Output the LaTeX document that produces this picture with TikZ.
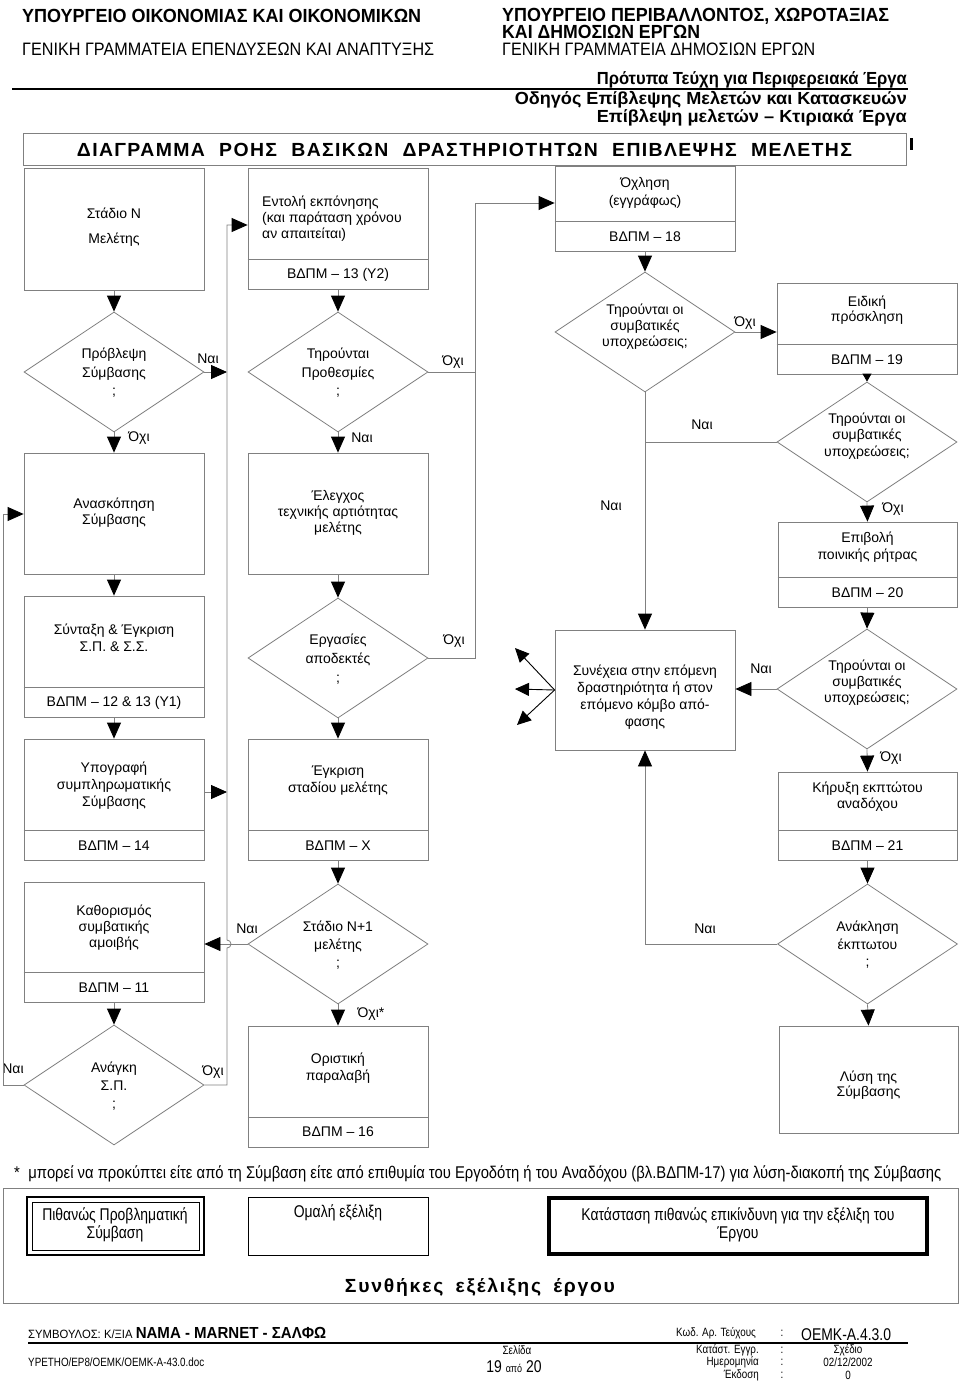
\documentclass[tikz,border=0pt]{standalone}
\usepackage{fontspec}
\usepackage{graphicx}
\setmainfont{Liberation Sans}
\newfontfamily\narrowfnt[FakeStretch=0.82]{Liberation Sans}
\usetikzlibrary{arrows.meta,shapes.geometric}
\definecolor{ln}{RGB}{128,128,128}
\newcommand\fitbox[2]{\resizebox{#1}{\height}{#2}}
\begin{document}
\begin{tikzpicture}[x=1pt,y=-1pt,
  line/.style={draw=ln,line width=0.8pt},
  arr/.style={draw=ln,line width=0.8pt,-{Triangle[length=16pt,width=14pt,color=black]}},
  arrs/.style={draw=ln,line width=0.8pt,-{Triangle[length=8pt,width=9pt,color=black]}},
  fan/.style={draw=black,line width=0.9pt,-{Triangle[length=14pt,width=13pt]}},
  box/.style={draw=ln,line width=0.8pt,rectangle,inner sep=0pt,minimum width=180pt},
  dia/.style={draw=ln,line width=0.8pt,diamond,inner sep=0pt,minimum width=180pt,minimum height=120pt},
  tx/.style={align=center,inner sep=0pt,font=\fontsize{14}{#1}\selectfont},
  tx/.default=16.5,
  lbl/.style={inner sep=0pt,font=\fontsize{14}{16}\selectfont},
  hd/.style={anchor=west,inner sep=0pt},
  hr/.style={anchor=east,inner sep=0pt},
  nf/.style={inner sep=0pt,font=\narrowfnt\fontsize{12}{12}\selectfont}]
\useasboundingbox (0,0) rectangle (960,1382);
\fill[white] (0,0) rectangle (960,1382);

% ---------- header ----------
\node[hd] (h1) at (22,16) {\fitbox{399pt}{\fontsize{19}{19}\selectfont\bfseries ΥΠΟΥΡΓΕΙΟ ΟΙΚΟΝΟΜΙΑΣ ΚΑΙ ΟΙΚΟΝΟΜΙΚΩΝ}};
\node[hd] (h2) at (22,49) {\fitbox{412pt}{\fontsize{18}{18}\selectfont ΓΕΝΙΚΗ ΓΡΑΜΜΑΤΕΙΑ ΕΠΕΝΔΥΣΕΩΝ ΚΑΙ ΑΝΑΠΤΥΞΗΣ}};
\node[hd] (h3) at (502,16) {\fitbox{387pt}{\fontsize{19}{19}\selectfont\bfseries ΥΠΟΥΡΓΕΙΟ ΠΕΡΙΒΑΛΛΟΝΤΟΣ, ΧΩΡΟΤΑΞΙΑΣ}};
\node[hd] (h4) at (502,31.5) {\fitbox{198pt}{\fontsize{19}{19}\selectfont\bfseries ΚΑΙ ΔΗΜΟΣΙΩΝ ΕΡΓΩΝ}};
\node[hd] (h5) at (502,49) {\fitbox{313pt}{\fontsize{18}{18}\selectfont ΓΕΝΙΚΗ ΓΡΑΜΜΑΤΕΙΑ ΔΗΜΟΣΙΩΝ ΕΡΓΩΝ}};
\node[hr] (h6) at (907,80) {\fitbox{310pt}{\fontsize{17.5}{17.5}\selectfont\bfseries Πρότυπα Τεύχη για Περιφερειακά Έργα}};
\draw[black,line width=1.3pt] (12,89) -- (908,89);
\node[hr] (h7) at (907,100) {\fitbox{392pt}{\fontsize{17.5}{17.5}\selectfont\bfseries Οδηγός Επίβλεψης Μελετών και Κατασκευών}};
\node[hr] (h8) at (907,118) {\fitbox{310pt}{\fontsize{17.5}{17.5}\selectfont\bfseries Επίβλεψη μελετών – Κτιριακά Έργα}};
\node[draw=ln,line width=0.8pt,minimum width=883pt,minimum height=32pt,inner sep=0pt] (title) at (464.5,149) {};
\node[inner sep=0pt] (titletxt) at (464.5,150) {\fitbox{775pt}{\fontsize{19}{19}\selectfont\bfseries\addfontfeature{LetterSpace=7}ΔΙΑΓΡΑΜΜΑ\hspace{14pt}ΡΟΗΣ\hspace{14pt}ΒΑΣΙΚΩΝ\hspace{14pt}ΔΡΑΣΤΗΡΙΟΤΗΤΩΝ\hspace{14pt}ΕΠΙΒΛΕΨΗΣ\hspace{14pt}ΜΕΛΕΤΗΣ}};
\draw[black,line width=3pt] (911,138) -- (911,150);

% ---------- boxes ----------
\node[box,minimum height=122pt] (A) at (114,229) {};
\node[box,minimum height=121pt] (B) at (338,228.5) {};
\node[box,minimum height=85pt] (C) at (645,208.5) {};
\node[box,minimum height=91pt] (E) at (867,328.5) {};
\node[box,minimum width=179pt,minimum height=85pt] (G) at (867.5,564.5) {};
\node[box,minimum height=120pt] (F) at (645,690) {};
\node[box,minimum width=179pt,minimum height=88pt] (H) at (867.5,816) {};
\node[box,minimum width=179pt,minimum height=107pt] (I) at (868.5,1079.5) {};
\node[box,minimum height=121pt] (J) at (114,513.5) {};
\node[box,minimum height=121pt] (K) at (114,656.5) {};
\node[box,minimum height=121pt] (L) at (114,799.5) {};
\node[box,minimum height=120pt] (M) at (114,942) {};
\node[box,minimum height=121pt] (N) at (338,513.5) {};
\node[box,minimum height=121pt] (O) at (338,799.5) {};
\node[box,minimum height=121pt] (P) at (338,1086.5) {};

% dividers
\draw[line] (B.west |- 0,259) -- (B.east |- 0,259);
\draw[line] (C.west |- 0,221) -- (C.east |- 0,221);
\draw[line] (E.west |- 0,344) -- (E.east |- 0,344);
\draw[line] (G.west |- 0,577) -- (G.east |- 0,577);
\draw[line] (H.west |- 0,830) -- (H.east |- 0,830);
\draw[line] (K.west |- 0,687) -- (K.east |- 0,687);
\draw[line] (L.west |- 0,830) -- (L.east |- 0,830);
\draw[line] (M.west |- 0,972) -- (M.east |- 0,972);
\draw[line] (O.west |- 0,830) -- (O.east |- 0,830);
\draw[line] (P.west |- 0,1117) -- (P.east |- 0,1117);

% ---------- diamonds ----------
\node[dia] (D1) at (114,372) {};
\node[dia] (D2) at (338,372) {};
\node[dia] (D3) at (645,332) {};
\node[dia] (D4) at (867,442) {};
\node[dia] (D5) at (867,689) {};
\node[dia] (D6) at (338,944) {};
\node[dia] (D7) at (867.5,944) {};
\node[dia] (D8) at (114,1085) {};
\node[dia] (D9) at (338,658) {};

% ---------- texts ----------
\node[tx=25] (tA) at (114,227) {Στάδιο Ν\\Μελέτης};
\node[tx=16,anchor=west,align=left] (tB) at (262,219) {Εντολή εκπόνησης\\(και παράταση χρόνου\\αν απαιτείται)};
\node[tx] (bB) at (338,275) {ΒΔΠΜ – 13 (Υ2)};
\node[tx=18] (tC) at (645,193) {Όχληση\\(εγγράφως)};
\node[tx] (bC) at (645,237) {ΒΔΠΜ – 18};
\node[tx=15.5] (tE) at (867,310) {Ειδική\\πρόσκληση};
\node[tx] (bE) at (867,360) {ΒΔΠΜ – 19};
\node[tx=17] (tG) at (867.5,547) {Επιβολή\\ποινικής ρήτρας};
\node[tx] (bG) at (867.5,593) {ΒΔΠΜ – 20};
\node[tx=17] (tF) at (645,697) {Συνέχεια στην επόμενη\\δραστηριότητα ή στον\\επόμενο κόμβο από-\\φασης};
\node[tx=16] (tH) at (867.5,797) {Κήρυξη εκπτώτου\\αναδόχου};
\node[tx] (bH) at (867.5,846) {ΒΔΠΜ – 21};
\node[tx=15.5] (tI) at (868.5,1085) {Λύση της\\Σύμβασης};
\node[tx=16] (tJ) at (114,513) {Ανασκόπηση\\Σύμβασης};
\node[tx=17] (tK) at (114,638) {Σύνταξη \& Έγκριση\\Σ.Π. \& Σ.Σ.};
\node[tx] (bK) at (114,703) {ΒΔΠΜ – 12 \& 13 (Υ1)};
\node[tx=17] (tL) at (114,786) {Υπογραφή\\συμπληρωματικής\\Σύμβασης};
\node[tx] (bL) at (114,846) {ΒΔΠΜ – 14};
\node[tx=16] (tM) at (114,928) {Καθορισμός\\συμβατικής\\αμοιβής};
\node[tx] (bM) at (114,988) {ΒΔΠΜ – 11};
\node[tx=16] (tN) at (338,513) {Έλεγχος\\τεχνικής αρτιότητας\\μελέτης};
\node[tx=17] (tO) at (338,781) {Έγκριση\\σταδίου μελέτης};
\node[tx] (bO) at (338,846) {ΒΔΠΜ – Χ};
\node[tx=17] (tP) at (338,1068) {Οριστική\\παραλαβή};
\node[tx] (bP) at (338,1132) {ΒΔΠΜ – 16};

\node[tx=18.5] (tD1) at (114,373) {Πρόβλεψη\\Σύμβασης\\;};
\node[tx=18.5] (tD2) at (338,373) {Τηρούνται\\Προθεσμίες\\;};
\node[tx=16] (tD3) at (645,327) {Τηρούνται οι\\συμβατικές\\υποχρεώσεις;};
\node[tx=16.5] (tD4) at (867,436) {Τηρούνται οι\\συμβατικές\\υποχρεώσεις;};
\node[tx=16] (tD5) at (867,683) {Τηρούνται οι\\συμβατικές\\υποχρεώσεις;};
\node[tx=18] (tD6) at (338,945) {Στάδιο Ν+1\\μελέτης\\;};
\node[tx=17.5] (tD7) at (867.5,945) {Ανάκληση\\έκπτωτου\\;};
\node[tx=18] (tD8) at (114,1086) {Ανάγκη\\Σ.Π.\\;};
\node[tx=19] (tD9) at (338,659) {Εργασίες\\αποδεκτές\\;};

% ---------- labels ----------
\node[lbl] (l1) at (208,359) {Ναι};
\node[lbl] (l2) at (453,362) {Όχι};
\node[lbl] (l3) at (139,438) {Όχι};
\node[lbl] (l4) at (362,438) {Ναι};
\node[lbl] (l5) at (454,641) {Όχι};
\node[lbl] (l6) at (745,323) {Όχι};
\node[lbl] (l7) at (702,425) {Ναι};
\node[lbl] (l8) at (611,506) {Ναι};
\node[lbl] (l9) at (893,509) {Όχι};
\node[lbl] (l10) at (761,669) {Ναι};
\node[lbl] (l11) at (891,758) {Όχι};
\node[lbl] (l12) at (705,929) {Ναι};
\node[lbl] (l13) at (247,929) {Ναι};
\node[lbl] (l14) at (371,1014) {Όχι*};
\node[lbl] (l15) at (13,1069) {Ναι};
\node[lbl] (l16) at (213,1072) {Όχι};

% ---------- connectors ----------
\coordinate (busTop) at (227,225);
\coordinate (busBot) at (227,1085);
\coordinate (rbusTop) at (475,203);
\coordinate (lloop) at (3,514);
\draw[arr] (A.south) -- (D1.north);
\draw[arr] (D1.east) -- (D1.east -| busTop);
\draw[arr] (D1.south) -- (J.north);
\draw[arr] (J.south) -- (K.north);
\draw[arr] (K.south) -- (L.north);
\draw[arr] (L.east |- 0,792) -- (busTop |- 0,792);
\draw[arr] (M.south) -- (D8.north);
\draw[arr] (D8.east) -- (busBot) -- (227,948) arc[start angle=90,end angle=-90,radius=4] -- (busTop) -- (busTop -| B.west);
\draw[arr] (D8.west) -- (D8.west -| lloop) -- (lloop) -- (lloop -| J.west);
\draw[arr] (D6.west) -- (D6.west -| M.east);
\draw[arr] (B.south) -- (D2.north);
\draw[arr] (D2.south) -- (N.north);
\draw[arr] (N.south) -- (D9.north);
\draw[arr] (D9.south) -- (O.north);
\draw[arr] (O.south) -- (D6.north);
\draw[arr] (D6.south) -- (P.north);
\draw[arr] (D2.east) -- (D2.east -| rbusTop) -- (rbusTop) -- (rbusTop -| C.west);
\draw[line] (D9.east) -- (D9.east -| rbusTop) -- (D2.east -| rbusTop);
\draw[arr] (C.south) -- (D3.north);
\draw[arr] (D3.east) -- (D3.east -| E.west);
\draw[arrs] (E.south) -- (D4.north);
\draw[arr] (D3.south) -- (F.north);
\draw[line] (D4.west) -- (D4.west -| F.north);
\draw[arr] (D4.south) -- (G.north);
\draw[arr] (G.south) -- (D5.north);
\draw[arr] (D5.west) -- (D5.west -| F.east);
\draw[arr] (D5.south) -- (H.north);
\draw[arr] (H.south) -- (D7.north);
\draw[arr] (D7.south) -- (I.north);
\draw[arr] (D7.west) -- (D7.west -| F.south) -- (F.south);
\coordinate (fa1) at (515,648);
\coordinate (fa2) at (515,689);
\coordinate (fa3) at (517,725);
\draw[fan] (F.west) -- (fa1);
\draw[fan] (F.west) -- (fa2);
\draw[fan] (F.west) -- (fa3);

% ---------- legend ----------
\node[inner sep=0pt,anchor=west] (fn) at (14,1174) {\fitbox{927pt}{\narrowfnt\fontsize{17}{17}\selectfont *\hspace{8pt}μπορεί να προκύπτει είτε από τη Σύμβαση είτε από επιθυμία του Εργοδότη ή του Αναδόχου (βλ.ΒΔΠΜ-17) για λύση-διακοπή της Σύμβασης}};
\node[draw=ln,line width=0.8pt,minimum width=955pt,minimum height=115pt,inner sep=0pt] (leg) at (480.5,1245.5) {};
\node[draw=black,line width=2.2pt,minimum width=177pt,minimum height=58pt,inner sep=0pt] (lg1) at (115.5,1226) {};
\node[draw=black,line width=0.8pt,minimum width=167pt,minimum height=48pt,inner sep=0pt] (lg1i) at (lg1.center) {};
\node[draw=black,line width=1pt,minimum width=180pt,minimum height=58pt,inner sep=0pt] (lg2) at (338,1226) {};
\node[draw=black,line width=4pt,minimum width=378pt,minimum height=56pt,inner sep=0pt] (lg3) at (738,1226) {};
\node[align=center,inner sep=0pt,font=\narrowfnt\fontsize{17}{18}\selectfont] (tl1) at (115,1225) {Πιθανώς Προβληματική\\Σύμβαση};
\node[inner sep=0pt,font=\narrowfnt\fontsize{17}{18}\selectfont] (tl2) at (338,1213) {Ομαλή εξέλιξη};
\node[align=center,inner sep=0pt,font=\narrowfnt\fontsize{17}{18}\selectfont] (tl3) at (738,1225) {Κατάσταση πιθανώς επικίνδυνη για την εξέλιξη του\\Έργου};
\node[inner sep=0pt] (tl4) at (480,1287) {\fitbox{270pt}{\fontsize{19}{19}\selectfont\bfseries\addfontfeature{LetterSpace=9}Συνθήκες\hspace{12pt}εξέλιξης\hspace{12pt}έργου}};

% ---------- footer ----------
\node[hd] (f1) at (28,1333) {\fitbox{298pt}{\narrowfnt\fontsize{12}{12}\selectfont ΣΥΜΒΟΥΛΟΣ: Κ/ΞΙΑ \fontsize{16}{16}\selectfont\bfseries NAMA - MARNET - ΣΑΛΦΩ}};
\draw[black,line width=1.3pt] (28,1343) -- (908,1343);
\node[nf,anchor=west] (f2) at (676,1333) {Κωδ. Αρ. Τεύχους};
\node[nf] (f2c) at (782,1333) {:};
\node[hd] (f3) at (801,1335) {\narrowfnt\fontsize{17}{17}\selectfont OEMK-A.4.3.0};
\node[nf,anchor=west] (f4) at (28,1362) {YPETHO/EP8/OEMK/OEMK-A-43.0.doc};
\node[nf] (f5) at (517,1350) {Σελίδα};
\node[inner sep=0pt] (f6) at (514,1367) {\narrowfnt\fontsize{17}{17}\selectfont 19 {\fontsize{11}{11}\selectfont από} 20};
\node[nf,anchor=east] (f7) at (759,1350) {Κατάστ. Εγγρ.};
\node[nf] (f7c) at (782,1350) {:};
\node[nf] (f7v) at (848,1350) {Σχέδιο};
\node[nf,anchor=east] (f8) at (759,1362) {Ημερομηνία};
\node[nf] (f8c) at (782,1362) {:};
\node[nf] (f8v) at (848,1362) {02/12/2002};
\node[nf,anchor=east] (f9) at (759,1375) {Έκδοση};
\node[nf] (f9c) at (782,1375) {:};
\node[nf] (f9v) at (848,1375) {0};
\end{tikzpicture}
\end{document}
